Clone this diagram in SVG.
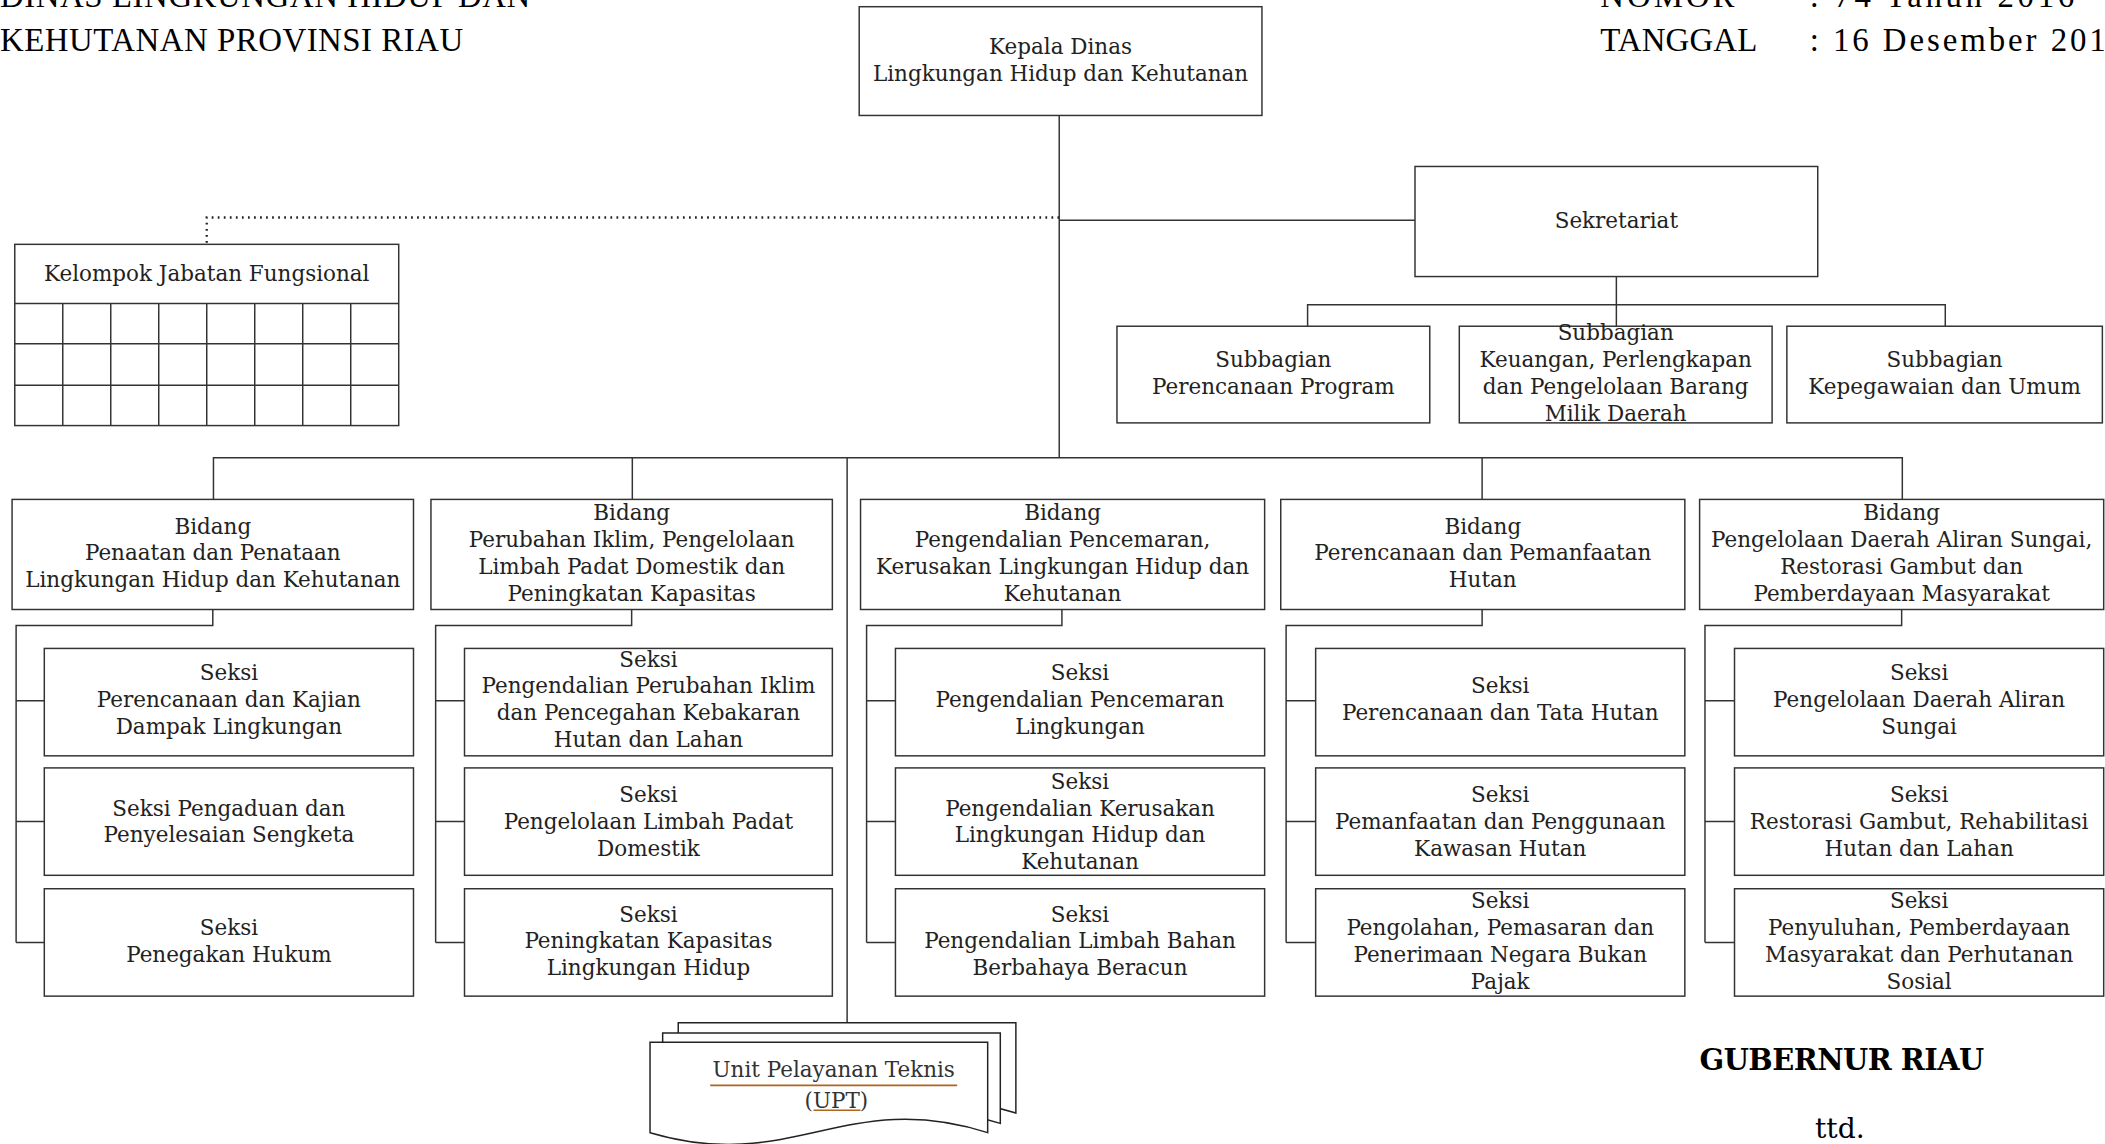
<svg xmlns="http://www.w3.org/2000/svg" width="2105" height="1144" viewBox="0 0 2105 1144">
<defs>
<style>
.box{fill:#fff;stroke:#333;stroke-width:1.1}
.conn{fill:none;stroke:#333;stroke-width:1.1}
.dot{fill:none;stroke:#222;stroke-width:1.7;stroke-dasharray:1.3 3.2}
.t{font-family:"DejaVu Serif","Liberation Serif",serif;font-size:16px;fill:#222;text-anchor:middle}
.hdr{font-family:"Liberation Serif","DejaVu Serif",serif;font-size:24.5px;fill:#000}
.gub{font-family:"DejaVu Serif","Liberation Serif",serif;font-size:21.5px;font-weight:bold;fill:#000}
.ttd{font-family:"DejaVu Serif","Liberation Serif",serif;font-size:21px;fill:#000}
.ul{stroke:#b0651e;stroke-width:1.2}
.doc{fill:#fff;stroke:#222;stroke-width:1.1}
</style>
<path id="docshape" d="M0,0 H251.5 V67.3 C145.8,33.6 105.8,98.6 0,67.3 Z"/>
</defs>
<rect width="2105" height="1144" fill="#fff"/>
<g transform="scale(1.3425)">
<g id="header">
<text class="hdr" x="0" y="5" textLength="395">DINAS LINGKUNGAN HIDUP DAN</text>
<text class="hdr" x="0" y="38" textLength="345">KEHUTANAN PROVINSI RIAU</text>
<text class="hdr" x="1192" y="5" textLength="100">NOMOR</text>
<text class="hdr" x="1348" y="5" textLength="197">: 74 Tahun 2016</text>
<text class="hdr" x="1192" y="38" textLength="117">TANGGAL</text>
<text class="hdr" x="1348" y="38" textLength="235">: 16 Desember 2016</text>
</g>
<g id="connectors">
<path class="conn" d="M789,86 V341"/>
<path class="conn" d="M789,164 H1054"/>
<path class="dot" d="M789,162 H154 V182"/>
<path class="conn" d="M1204,206 V243"/>
<path class="conn" d="M974,243 V227 H1449 V243"/>
<path class="conn" d="M159,372 V341 H1417 V372"/>
<path class="conn" d="M471,341 V372"/>
<path class="conn" d="M1104,341 V372"/>
<path class="conn" d="M631,341 V762"/>
<path class="conn" d="M158.5,454 V466 H12 V702 M12,522 H33 M12,612 H33 M12,702 H33"/>
<path class="conn" d="M470.5,454 V466 H324.5 V702 M324.5,522 H346 M324.5,612 H346 M324.5,702 H346"/>
<path class="conn" d="M791,454 V466 H645.5 V702 M645.5,522 H667 M645.5,612 H667 M645.5,702 H667"/>
<path class="conn" d="M1104,454 V466 H958 V702 M958,522 H980 M958,612 H980 M958,702 H980"/>
<path class="conn" d="M1416.5,454 V466 H1270 V702 M1270,522 H1292 M1270,612 H1292 M1270,702 H1292"/>
</g>
<g id="kepala">
<rect class="box" x="640" y="5" width="300" height="81"/>
<text class="t"><tspan x="790" y="40.5">Kepala Dinas</tspan><tspan x="790" y="60.5">Lingkungan Hidup dan Kehutanan</tspan></text>
</g>
<g id="sekretariat">
<rect class="box" x="1054" y="124" width="300" height="82"/>
<text class="t" x="1204" y="169.5">Sekretariat</text>
</g>
<g id="subbagian-program">
<rect class="box" x="832" y="243" width="233" height="72"/>
<text class="t"><tspan x="948.5" y="273.5">Subbagian</tspan><tspan x="948.5" y="293.5">Perencanaan Program</tspan></text>
</g>
<g id="subbagian-keuangan">
<rect class="box" x="1087" y="243" width="233" height="72"/>
<text class="t"><tspan x="1203.5" y="253.5">Subbagian</tspan><tspan x="1203.5" y="273.5">Keuangan, Perlengkapan</tspan><tspan x="1203.5" y="293.5">dan Pengelolaan Barang</tspan><tspan x="1203.5" y="313.5">Milik Daerah</tspan></text>
</g>
<g id="subbagian-kepegawaian">
<rect class="box" x="1331" y="243" width="235" height="72"/>
<text class="t"><tspan x="1448.5" y="273.5">Subbagian</tspan><tspan x="1448.5" y="293.5">Kepegawaian dan Umum</tspan></text>
</g>
<g id="kelompok">
<rect class="box" x="11" y="182" width="286" height="135"/>
<path class="conn" d="M11,226 H297 M11,256 H297 M11,287 H297 M46.75,226 V317 M82.5,226 V317 M118.25,226 V317 M154,226 V317 M189.75,226 V317 M225.5,226 V317 M261.25,226 V317"/>
<text class="t" x="154" y="209.5">Kelompok Jabatan Fungsional</text>
</g>
<g id="bidang1">
<rect class="box" x="9" y="372" width="299" height="82"/>
<text class="t"><tspan x="158.5" y="397.5">Bidang</tspan><tspan x="158.5" y="417.5">Penaatan dan Penataan</tspan><tspan x="158.5" y="437.5">Lingkungan Hidup dan Kehutanan</tspan></text>
</g>
<g id="bidang2">
<rect class="box" x="321" y="372" width="299" height="82"/>
<text class="t"><tspan x="470.5" y="387.5">Bidang</tspan><tspan x="470.5" y="407.5">Perubahan Iklim, Pengelolaan</tspan><tspan x="470.5" y="427.5">Limbah Padat Domestik dan</tspan><tspan x="470.5" y="447.5">Peningkatan Kapasitas</tspan></text>
</g>
<g id="bidang3">
<rect class="box" x="641" y="372" width="301" height="82"/>
<text class="t"><tspan x="791.5" y="387.5">Bidang</tspan><tspan x="791.5" y="407.5">Pengendalian Pencemaran,</tspan><tspan x="791.5" y="427.5">Kerusakan Lingkungan Hidup dan</tspan><tspan x="791.5" y="447.5">Kehutanan</tspan></text>
</g>
<g id="bidang4">
<rect class="box" x="954" y="372" width="301" height="82"/>
<text class="t"><tspan x="1104.5" y="397.5">Bidang</tspan><tspan x="1104.5" y="417.5">Perencanaan dan Pemanfaatan</tspan><tspan x="1104.5" y="437.5">Hutan</tspan></text>
</g>
<g id="bidang5">
<rect class="box" x="1266" y="372" width="301" height="82"/>
<text class="t"><tspan x="1416.5" y="387.5">Bidang</tspan><tspan x="1416.5" y="407.5">Pengelolaan Daerah Aliran Sungai,</tspan><tspan x="1416.5" y="427.5">Restorasi Gambut dan</tspan><tspan x="1416.5" y="447.5">Pemberdayaan Masyarakat</tspan></text>
</g>
<g id="seksi-1-1">
<rect class="box" x="33" y="483" width="275" height="80"/>
<text class="t"><tspan x="170.5" y="506.5">Seksi</tspan><tspan x="170.5" y="526.5">Perencanaan dan Kajian</tspan><tspan x="170.5" y="546.5">Dampak Lingkungan</tspan></text>
</g>
<g id="seksi-1-2">
<rect class="box" x="33" y="572" width="275" height="80"/>
<text class="t"><tspan x="170.5" y="607.5">Seksi Pengaduan dan</tspan><tspan x="170.5" y="627.5">Penyelesaian Sengketa</tspan></text>
</g>
<g id="seksi-1-3">
<rect class="box" x="33" y="662" width="275" height="80"/>
<text class="t"><tspan x="170.5" y="696.5">Seksi</tspan><tspan x="170.5" y="716.5">Penegakan Hukum</tspan></text>
</g>
<g id="seksi-2-1">
<rect class="box" x="346" y="483" width="274" height="80"/>
<text class="t"><tspan x="483" y="496.5">Seksi</tspan><tspan x="483" y="516.5">Pengendalian Perubahan Iklim</tspan><tspan x="483" y="536.5">dan Pencegahan Kebakaran</tspan><tspan x="483" y="556.5">Hutan dan Lahan</tspan></text>
</g>
<g id="seksi-2-2">
<rect class="box" x="346" y="572" width="274" height="80"/>
<text class="t"><tspan x="483" y="597.5">Seksi</tspan><tspan x="483" y="617.5">Pengelolaan Limbah Padat</tspan><tspan x="483" y="637.5">Domestik</tspan></text>
</g>
<g id="seksi-2-3">
<rect class="box" x="346" y="662" width="274" height="80"/>
<text class="t"><tspan x="483" y="686.5">Seksi</tspan><tspan x="483" y="706.5">Peningkatan Kapasitas</tspan><tspan x="483" y="726.5">Lingkungan Hidup</tspan></text>
</g>
<g id="seksi-3-1">
<rect class="box" x="667" y="483" width="275" height="80"/>
<text class="t"><tspan x="804.5" y="506.5">Seksi</tspan><tspan x="804.5" y="526.5">Pengendalian Pencemaran</tspan><tspan x="804.5" y="546.5">Lingkungan</tspan></text>
</g>
<g id="seksi-3-2">
<rect class="box" x="667" y="572" width="275" height="80"/>
<text class="t"><tspan x="804.5" y="587.5">Seksi</tspan><tspan x="804.5" y="607.5">Pengendalian Kerusakan</tspan><tspan x="804.5" y="627.5">Lingkungan Hidup dan</tspan><tspan x="804.5" y="647.5">Kehutanan</tspan></text>
</g>
<g id="seksi-3-3">
<rect class="box" x="667" y="662" width="275" height="80"/>
<text class="t"><tspan x="804.5" y="686.5">Seksi</tspan><tspan x="804.5" y="706.5">Pengendalian Limbah Bahan</tspan><tspan x="804.5" y="726.5">Berbahaya Beracun</tspan></text>
</g>
<g id="seksi-4-1">
<rect class="box" x="980" y="483" width="275" height="80"/>
<text class="t"><tspan x="1117.5" y="516.5">Seksi</tspan><tspan x="1117.5" y="536.5">Perencanaan dan Tata Hutan</tspan></text>
</g>
<g id="seksi-4-2">
<rect class="box" x="980" y="572" width="275" height="80"/>
<text class="t"><tspan x="1117.5" y="597.5">Seksi</tspan><tspan x="1117.5" y="617.5">Pemanfaatan dan Penggunaan</tspan><tspan x="1117.5" y="637.5">Kawasan Hutan</tspan></text>
</g>
<g id="seksi-4-3">
<rect class="box" x="980" y="662" width="275" height="80"/>
<text class="t"><tspan x="1117.5" y="676.5">Seksi</tspan><tspan x="1117.5" y="696.5">Pengolahan, Pemasaran dan</tspan><tspan x="1117.5" y="716.5">Penerimaan Negara Bukan</tspan><tspan x="1117.5" y="736.5">Pajak</tspan></text>
</g>
<g id="seksi-5-1">
<rect class="box" x="1292" y="483" width="275" height="80"/>
<text class="t"><tspan x="1429.5" y="506.5">Seksi</tspan><tspan x="1429.5" y="526.5">Pengelolaan Daerah Aliran</tspan><tspan x="1429.5" y="546.5">Sungai</tspan></text>
</g>
<g id="seksi-5-2">
<rect class="box" x="1292" y="572" width="275" height="80"/>
<text class="t"><tspan x="1429.5" y="597.5">Seksi</tspan><tspan x="1429.5" y="617.5">Restorasi Gambut, Rehabilitasi</tspan><tspan x="1429.5" y="637.5">Hutan dan Lahan</tspan></text>
</g>
<g id="seksi-5-3">
<rect class="box" x="1292" y="662" width="275" height="80"/>
<text class="t"><tspan x="1429.5" y="676.5">Seksi</tspan><tspan x="1429.5" y="696.5">Penyuluhan, Pemberdayaan</tspan><tspan x="1429.5" y="716.5">Masyarakat dan Perhutanan</tspan><tspan x="1429.5" y="736.5">Sosial</tspan></text>
</g>
<g id="upt">
<use href="#docshape" class="doc" transform="translate(505.2,761.8)"/>
<use href="#docshape" class="doc" transform="translate(493.6,769.5)"/>
<use href="#docshape" class="doc" transform="translate(484.2,776.4)"/>
<text class="t" x="621" y="802" style="fill:#333">Unit Pelayanan Teknis</text>
<line class="ul" x1="529" y1="808.5" x2="713" y2="808.5"/>
<text class="t" x="623" y="825" style="fill:#333">(UPT)</text>
<line class="ul" x1="606" y1="827" x2="641" y2="827"/>
</g>
<g id="signature">
<text class="gub" x="1266" y="797" textLength="212">GUBERNUR RIAU</text>
<text class="ttd" x="1352" y="848">ttd.</text>
</g>
</g>
</svg>
